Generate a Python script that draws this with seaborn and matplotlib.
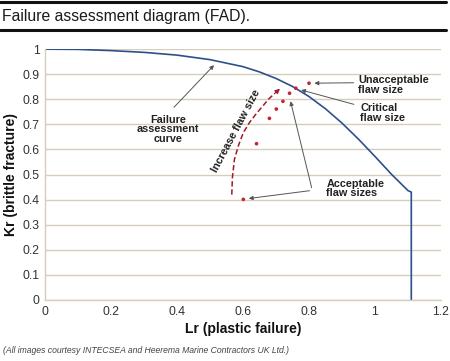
import numpy as np
import pandas as pd
import seaborn as sns
import matplotlib.pyplot as plt
from matplotlib import font_manager

# failure assessment curve
lr_curve = [0.0, 0.1, 0.2, 0.3, 0.4, 0.5, 0.6, 0.65, 0.7, 0.75, 0.8, 0.85, 0.9, 0.95, 1.0, 1.05, 1.1, 1.11, 1.11]
kr_curve = [1.0, 0.999, 0.994, 0.987, 0.976, 0.958, 0.930, 0.909, 0.883, 0.851, 0.811, 0.762, 0.705, 0.641, 0.572, 0.501, 0.436, 0.43, 0.0]

# assessed flaw points
lr_pts = [0.601, 0.641, 0.680, 0.701, 0.721, 0.741, 0.760, 0.800]
kr_pts = [0.401, 0.623, 0.724, 0.761, 0.792, 0.824, 0.844, 0.864]

# "increase flaw size" dashed arrow
lr_dash = [0.566, 0.568, 0.574, 0.586, 0.601, 0.620, 0.641, 0.660, 0.677, 0.695, 0.712]
kr_dash = [0.420, 0.490, 0.560, 0.615, 0.667, 0.708, 0.744, 0.773, 0.800, 0.822, 0.842]

x_ticks = [0, 0.2, 0.4, 0.6, 0.8, 1.0, 1.2]
x_labels = ['0', '0.2', '0.4', '0.6', '0.8', '1', '1.2']
y_ticks = [0, 0.1, 0.2, 0.3, 0.4, 0.5, 0.6, 0.7, 0.8, 0.9, 1.0]
y_labels = ['0', '0.1', '0.2', '0.3', '0.4', '0.5', '0.6', '0.7', '0.8', '0.9', '1']

sns.set_theme(style='white')
plt.rcParams['font.family'] = ['Liberation Sans', 'DejaVu Sans']

names = {f.name for f in font_manager.fontManager.ttflist}
narrow = 'Liberation Sans Narrow' if 'Liberation Sans Narrow' in names else 'Liberation Sans'
title_size = 12.5 if narrow == 'Liberation Sans Narrow' else 11.3

grid_col = '#d6cdbd'
red = '#a3192c'
fig = plt.figure(figsize=(4.5, 3.61), dpi=100)
ax = fig.add_axes([0.1, 0.169, 0.88, 0.695])

curve = pd.DataFrame({'Lr': lr_curve, 'Kr': kr_curve})
pts = pd.DataFrame({'Lr': lr_pts, 'Kr': kr_pts})

sns.lineplot(data=curve, x='Lr', y='Kr', sort=False, estimator=None, color='#2c5189', lw=1.2, ax=ax)
sns.scatterplot(data=pts, x='Lr', y='Kr', color='#c4262e', s=7, edgecolor='none', ax=ax, zorder=4)

ax.plot(lr_dash[:-1], kr_dash[:-1], ls=(0, (3.5, 1.8)), color=red, lw=1.1)
ax.annotate('', xy=(lr_dash[-1], kr_dash[-1]), xytext=(lr_dash[-2], kr_dash[-2]),
            arrowprops=dict(arrowstyle='-|>', color=red, lw=0.8, mutation_scale=7, shrinkA=0, shrinkB=0))

ax.set_xlim(0, 1.2)
ax.set_ylim(0, 1.0)
ax.set_xticks(x_ticks, x_labels)
ax.set_yticks(y_ticks, y_labels)
ax.yaxis.grid(True, color=grid_col, lw=1.0)
ax.set_axisbelow(True)
for s in ['top', 'right']:
    ax.spines[s].set_visible(False)
for s in ['left', 'bottom']:
    ax.spines[s].set_color(grid_col)
    ax.spines[s].set_linewidth(1.0)
ax.tick_params(axis='both', colors='#333333', labelsize=8.8, length=3, width=1, color=grid_col, pad=1)
ax.set_xlabel('Lr (plastic failure)', fontsize=10, fontweight='bold', color='#111111', labelpad=3)
ax.set_ylabel('Kr (brittle fracture)', fontsize=10, fontweight='bold', color='#111111', labelpad=3)

arrow_kw = dict(arrowstyle='-|>', color='#555555', lw=0.7, mutation_scale=6)
lab_kw = dict(fontsize=7.8, fontweight='bold', color='#222222', linespacing=0.95)

ax.text(0.373, 0.68, 'Failure\nassessment\ncurve', ha='center', va='center', **lab_kw)
ax.annotate('', xy=(0.518, 0.944), xytext=(0.385, 0.76), arrowprops=arrow_kw)

ax.text(0.95, 0.856, 'Unacceptable\nflaw size', ha='left', va='center', **lab_kw)
ax.annotate('', xy=(0.808, 0.864), xytext=(0.944, 0.866), arrowprops=arrow_kw)

ax.text(0.955, 0.745, 'Critical\nflaw size', ha='left', va='center', **lab_kw)
ax.annotate('', xy=(0.768, 0.84), xytext=(0.944, 0.777), arrowprops=arrow_kw)

ax.text(0.853, 0.444, 'Acceptable\nflaw sizes', ha='left', va='center', **lab_kw)
ax.annotate('', xy=(0.742, 0.803), xytext=(0.81, 0.437), arrowprops=arrow_kw)
ax.annotate('', xy=(0.609, 0.403), xytext=(0.81, 0.437), arrowprops=arrow_kw)

ax.text(0.578, 0.672, 'Increase flaw size', rotation=62, ha='center', va='center',
        fontsize=7.8, fontweight='bold', color='#222222')

# header rules and title, footer note
fig.add_artist(plt.Line2D([0, 0.992], [0.995, 0.995], color='#111111', lw=2.2))
fig.add_artist(plt.Line2D([0, 0.992], [0.918, 0.918], color='#111111', lw=2.2))
fig.text(0.004, 0.955, 'Failure assessment diagram (FAD).', family=narrow, fontsize=title_size,
         color='#1a1a1a', va='center', ha='left')
fig.text(0.007, 0.028, '(All images courtesy INTECSEA and Heerema Marine Contractors UK Ltd.)',
         family=narrow, style='italic', fontsize=6.2, color='#444444', va='center', ha='left')

fig.savefig('out.png', dpi=100)
